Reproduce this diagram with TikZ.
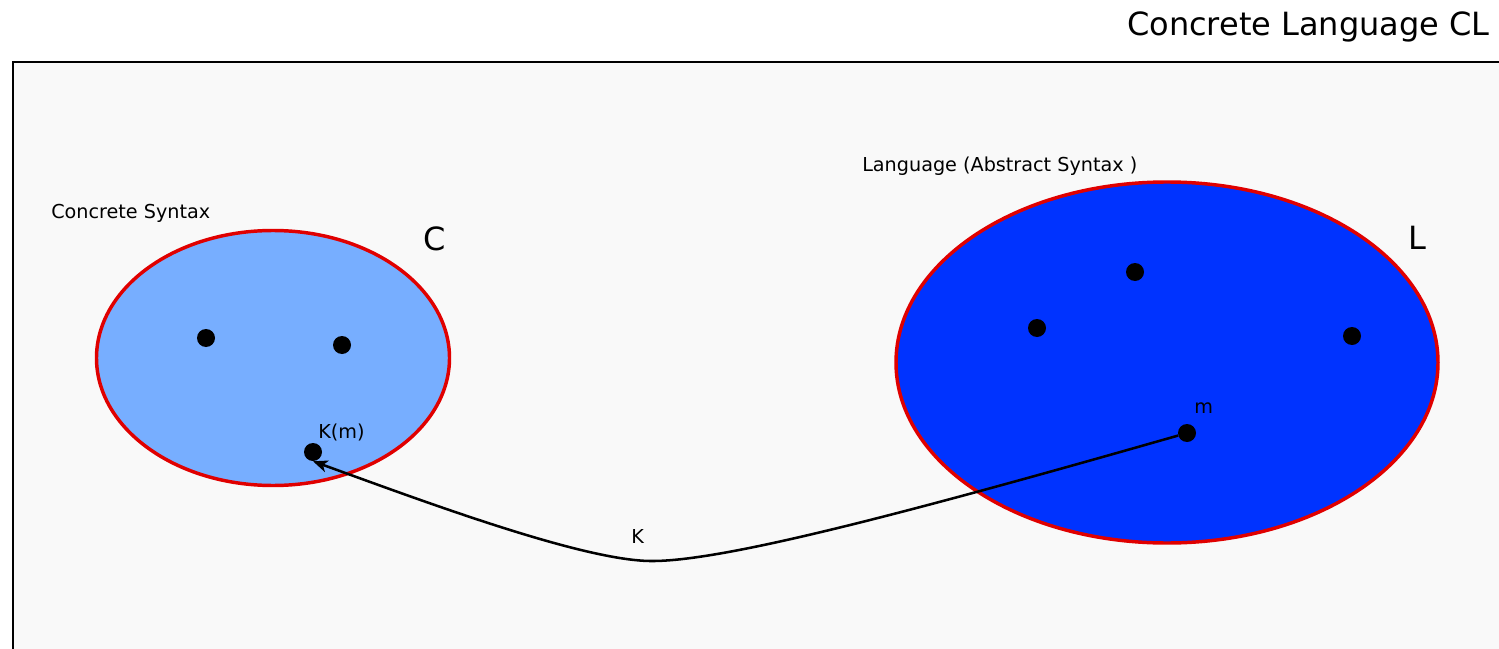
\documentclass[tikz,border=0pt]{standalone}
\usepackage{fontspec}
\setmainfont{DejaVu Sans}
\usetikzlibrary{arrows.meta,positioning}
\definecolor{panelgray}{HTML}{F9F9F9}
\definecolor{setlight}{HTML}{77AEFF}
\definecolor{setdeep}{HTML}{0033FF}
\definecolor{setrim}{HTML}{E00000}
\tikzset{
  elem/.style={circle,fill=black,inner sep=0pt,minimum size=13.5pt},
  lbl/.style={anchor=base west,inner sep=0pt,font=\fontsize{14.4}{17}\selectfont},
  biglbl/.style={anchor=base west,inner sep=0pt,font=\fontsize{24}{28}\selectfont},
  setshape/.style={draw=setrim,line width=2.6pt}
}

\begin{document}
\begin{tikzpicture}[x=0.75pt,y=-0.75pt]
  \useasboundingbox (0,0) rectangle (1499,649);
  \fill[panelgray] (13,62) rectangle (1499,649);
  \draw[line width=1.8pt] (13,649) -- (13,62) -- (1499,62); % 枠（上と左）
  \node[biglbl,anchor=base east] (title) at (1490,36) {Concrete Language CL};

  \draw[setshape,fill=setlight] (273,358) ellipse [x radius=176.5,y radius=127.5]; % C
  \draw[setshape,fill=setdeep] (1167,362.5) ellipse [x radius=271,y radius=180.5]; % L

  \node[lbl] (csyn) at (51,219) {Concrete Syntax};
  \node[lbl] (lsyn) at (862,172) {Language (Abstract Syntax )};
  \node[biglbl] (cname) at (423,250) {C};
  \node[biglbl] (lname) at (1408,249) {L};

  \node[elem] (ca) at (206,338) {};
  \node[elem] (cb) at (342,345) {};
  \node[elem] (km) at (313,452) {};
  \node[elem] (la) at (1135,272) {};
  \node[elem] (lb) at (1037,328) {};
  \node[elem] (lc) at (1352,336) {};
  \node[elem] (m) at (1187,433) {};

  \node[lbl] (kmlbl) at (318,438) {K(m)};
  \node[lbl] (mlbl) at (1194,413) {m};
  \node[lbl] (klbl) at (631,543) {K};

  \draw[line width=1.9pt,-{Stealth[length=11pt,width=9pt,inset=3pt]}]
    (m) .. controls (900,515) and (720,562) .. (650,561)
        .. controls (580,560) and (420,500) .. (km.south); % 写像 K
\end{tikzpicture}
\end{document}
